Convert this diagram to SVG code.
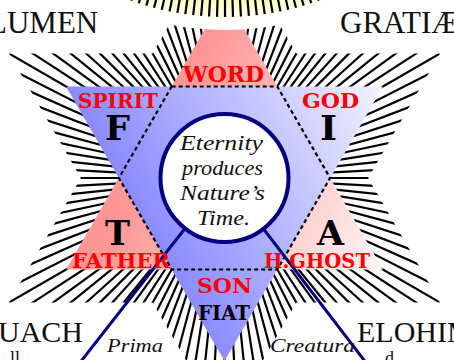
<svg xmlns="http://www.w3.org/2000/svg" xmlns:xlink="http://www.w3.org/1999/xlink" width="454" height="360" viewBox="0 0 454 360">
<style>
.ray{stroke:#000;stroke-width:2.2}
.sray{stroke:#000;stroke-width:2.2}
.lbl{font-family:"DejaVu Serif","Liberation Serif",serif;font-weight:bold;fill:#ff0000}
.big{font-family:"DejaVu Serif","Liberation Serif",serif;font-weight:bold;fill:#000}
.title{font-family:"Liberation Serif","Times New Roman",serif;fill:#111}
.script{font-family:"Liberation Serif","Times New Roman",serif;font-style:italic;fill:#111}
.hex{fill:none;stroke:#000;stroke-width:2.2;stroke-dasharray:4 3}
.navy{stroke:#000080;stroke-width:3;fill:none}
</style>
<defs>
<linearGradient id="pg" gradientUnits="userSpaceOnUse" x1="150" y1="150" x2="390" y2="270">
<stop offset="0" stop-color="#ff9696"/><stop offset="1" stop-color="#fff6f6"/>
</linearGradient>
<linearGradient id="bg" gradientUnits="userSpaceOnUse" x1="120" y1="240" x2="390" y2="90">
<stop offset="0" stop-color="#8080ff"/><stop offset="1" stop-color="#f4f4ff"/>
</linearGradient>
<radialGradient id="glow" gradientUnits="userSpaceOnUse" cx="225" cy="-260" r="290">
<stop offset="0" stop-color="#ffff99"/><stop offset="0.9" stop-color="#ffffb4"/><stop offset="0.97" stop-color="#ffffff"/><stop offset="1" stop-color="#ffffff"/>
</radialGradient>
<clipPath id="outer">
<polygon points="224.5,-70.9 440,302.4 9,302.4"/>
<polygon points="9,53.6 440,53.6 224.5,426.9"/>
</clipPath>
<line id="r" class="ray" x1="314.5" y1="178" x2="484.5" y2="178"/>
<g id="g5"><use href="#r"/><use href="#r" transform="rotate(3 224.5 178)"/><use href="#r" transform="rotate(6 224.5 178)"/><use href="#r" transform="rotate(9 224.5 178)"/><use href="#r" transform="rotate(12 224.5 178)"/></g>
<g id="g30"><use href="#g5"/><use href="#g5" transform="rotate(15 224.5 178)"/><use href="#g5" transform="rotate(30 224.5 178)"/><use href="#g5" transform="rotate(45 224.5 178)"/><use href="#g5" transform="rotate(60 224.5 178)"/><use href="#g5" transform="rotate(75 224.5 178)"/></g>
<line id="s" class="sray" x1="225" y1="-35" x2="225" y2="17"/>
</defs>
<rect width="454" height="360" fill="#fff"/>
<g id="rays" clip-path="url(#outer)">
<use href="#g30"/><use href="#g30" transform="rotate(90 224.5 178)"/><use href="#g30" transform="rotate(180 224.5 178)"/><use href="#g30" transform="rotate(270 224.5 178)"/>
</g>
<g id="triangle-up"><polygon points="224.5,-5 383,269.5 66,269.5" fill="url(#pg)"/></g>
<g id="triangle-down"><polygon points="66,86.5 383,86.5 224.5,361" fill="url(#bg)"/></g>
<g id="connectors">
<polygon class="hex" points="171.7,86.5 277.3,86.5 330.1,178 277.3,269.5 171.7,269.5 118.9,178"/>
<line class="navy" x1="224.5" y1="178" x2="78.1" y2="365"/>
<line class="navy" x1="224.5" y1="178" x2="367.8" y2="365"/>
</g>
<g id="center">
<circle cx="224.5" cy="178" r="64" fill="#fff" stroke="#000080" stroke-width="4"/>
<text class="script" x="180" y="150" font-size="22" textLength="83" lengthAdjust="spacingAndGlyphs">Eternity</text>
<text class="script" x="182" y="175" font-size="22" textLength="81" lengthAdjust="spacingAndGlyphs">produces</text>
<text class="script" x="180" y="200" font-size="22" textLength="85" lengthAdjust="spacingAndGlyphs">Nature’s</text>
<text class="script" x="197" y="225" font-size="22" textLength="53" lengthAdjust="spacingAndGlyphs">Time.</text>
</g>
<g id="sun">
<circle cx="225" cy="-260" r="290" fill="url(#glow)"/>
<use href="#s"/>
<use href="#s" transform="rotate(1.65 225 -260)"/><use href="#s" transform="rotate(-1.65 225 -260)"/>
<use href="#s" transform="rotate(3.3 225 -260)"/><use href="#s" transform="rotate(-3.3 225 -260)"/>
<use href="#s" transform="rotate(4.95 225 -260)"/><use href="#s" transform="rotate(-4.95 225 -260)"/>
<use href="#s" transform="rotate(6.6 225 -260)"/><use href="#s" transform="rotate(-6.6 225 -260)"/>
<use href="#s" transform="rotate(8.25 225 -260)"/><use href="#s" transform="rotate(-8.25 225 -260)"/>
<use href="#s" transform="rotate(9.9 225 -260)"/><use href="#s" transform="rotate(-9.9 225 -260)"/>
<use href="#s" transform="rotate(11.55 225 -260)"/><use href="#s" transform="rotate(-11.55 225 -260)"/>
<use href="#s" transform="rotate(13.2 225 -260)"/><use href="#s" transform="rotate(-13.2 225 -260)"/>
<use href="#s" transform="rotate(14.85 225 -260)"/><use href="#s" transform="rotate(-14.85 225 -260)"/>
<use href="#s" transform="rotate(16.5 225 -260)"/><use href="#s" transform="rotate(-16.5 225 -260)"/>
<use href="#s" transform="rotate(18.15 225 -260)"/><use href="#s" transform="rotate(-18.15 225 -260)"/>
<use href="#s" transform="rotate(19.8 225 -260)"/><use href="#s" transform="rotate(-19.8 225 -260)"/>
</g>
<g id="word"><text class="lbl" x="183" y="82" font-size="22" textLength="81" lengthAdjust="spacingAndGlyphs">WORD</text></g>
<g id="spirit"><text class="lbl" x="78" y="108" font-size="20" textLength="80" lengthAdjust="spacingAndGlyphs">SPIRIT</text>
<text class="big" x="105" y="140" font-size="34" textLength="25" lengthAdjust="spacingAndGlyphs">F</text></g>
<g id="god"><text class="lbl" x="302" y="108" font-size="20" textLength="57" lengthAdjust="spacingAndGlyphs">GOD</text>
<text class="big" x="320" y="140" font-size="34" textLength="17" lengthAdjust="spacingAndGlyphs">I</text></g>
<g id="father"><text class="big" x="105" y="245" font-size="34" textLength="25" lengthAdjust="spacingAndGlyphs">T</text>
<text class="lbl" x="72" y="268" font-size="20" textLength="98" lengthAdjust="spacingAndGlyphs">FATHER</text></g>
<g id="hghost"><text class="big" x="317" y="245" font-size="34" textLength="27" lengthAdjust="spacingAndGlyphs">A</text>
<text class="lbl" x="264" y="268" font-size="20" textLength="106" lengthAdjust="spacingAndGlyphs">H.GHOST</text></g>
<g id="son"><text class="lbl" x="197" y="293" font-size="20" textLength="55" lengthAdjust="spacingAndGlyphs">SON</text>
<text class="big" x="198" y="320" font-size="20" textLength="52" lengthAdjust="spacingAndGlyphs">FIAT</text></g>
<g id="corners">
<text class="title" x="-12" y="33" font-size="31">LUMEN</text>
<text class="title" x="340" y="33" font-size="31">GRATIÆ</text>
<text class="title" x="-22" y="342" font-size="30">RUACH</text>
<text class="title" x="357" y="342" font-size="30">ELOHIM</text>
<text class="title" x="10" y="364" font-size="18">ll</text>
<text class="title" x="385" y="364" font-size="18">d</text>
<text class="script" x="107" y="352" font-size="18" textLength="56" lengthAdjust="spacingAndGlyphs">Prima</text>
<text class="script" x="270" y="352" font-size="18" textLength="85" lengthAdjust="spacingAndGlyphs">Creatura</text>
</g>
</svg>
